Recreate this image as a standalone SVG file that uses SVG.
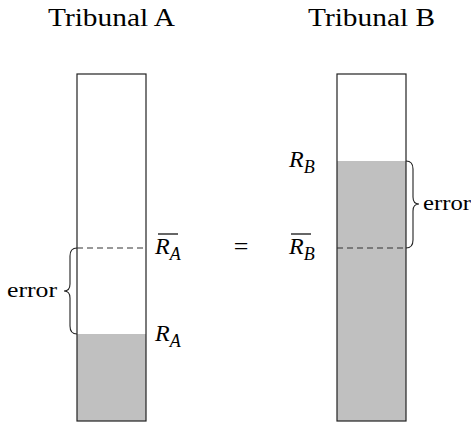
<svg xmlns="http://www.w3.org/2000/svg" width="471" height="423" viewBox="0 0 471 423">
<style>
.t{font-family:'Liberation Serif','Times New Roman',Tinos,Times,serif;fill:#000}
.m{font-family:'Liberation Serif','Times New Roman',Tinos,Times,serif;font-style:italic;fill:#000}
.bar{fill:none;stroke:#222;stroke-width:1.2}
.fill{fill:#c0c0c0;stroke:none}
.dash{stroke:#333;stroke-width:1.2;stroke-dasharray:6,4;fill:none}
.brace{fill:none;stroke:#222;stroke-width:1.1}
</style>
<rect width="471" height="423" fill="#fff"/>
<g id="titleA"><text class="t" x="48" y="26" font-size="25" textLength="127" lengthAdjust="spacingAndGlyphs">Tribunal A</text></g>
<g id="titleB"><text class="t" x="308" y="26" font-size="25" textLength="127" lengthAdjust="spacingAndGlyphs">Tribunal B</text></g>
<g id="barA">
<rect class="fill" x="77" y="334" width="69" height="87"/>
<rect class="bar" x="77" y="74" width="69" height="347"/>
</g>
<g id="barB">
<rect class="fill" x="337" y="161" width="69" height="260"/>
<rect class="bar" x="337" y="74" width="69" height="347"/>
</g>
<g id="connectors">
<line class="dash" x1="77" y1="248" x2="146" y2="248"/>
<line class="dash" x1="337" y1="248" x2="406" y2="248"/>
<path class="brace" d="M77,248 Q70,248 70,256 L70,284 Q70,291 64,291 Q70,291 70,298 L70,326 Q70,334 77,334"/>
<path class="brace" d="M406,161 Q413,161 413,169 L413,197 Q413,204 419,204 Q413,204 413,211 L413,240 Q413,248 406,248"/>
</g>
<g id="labelsA">
<text class="t" x="7" y="297" font-size="22" textLength="50" lengthAdjust="spacingAndGlyphs">error</text>
<line x1="158" y1="234" x2="178" y2="234" stroke="#000" stroke-width="1.2"/>
<text class="m" x="155" y="254" font-size="24">R<tspan font-size="18" dy="6">A</tspan></text>
<text class="m" x="155" y="341" font-size="24">R<tspan font-size="18" dy="6">A</tspan></text>
</g>
<g id="equals"><text class="t" x="241" y="255" font-size="26" text-anchor="middle">=</text></g>
<g id="labelsB">
<text class="t" x="423" y="210" font-size="22" textLength="48" lengthAdjust="spacingAndGlyphs">error</text>
<text class="m" x="289" y="167" font-size="24">R<tspan font-size="18" dy="6">B</tspan></text>
<line x1="291" y1="234" x2="311" y2="234" stroke="#000" stroke-width="1.2"/>
<text class="m" x="289" y="254" font-size="24">R<tspan font-size="18" dy="6">B</tspan></text>
</g>
</svg>
